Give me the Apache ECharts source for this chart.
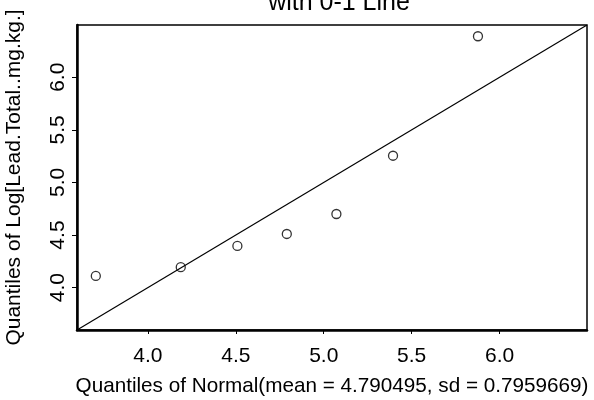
<!DOCTYPE html>
<html>
<head>
<meta charset="utf-8">
<script src="https://cdn.jsdelivr.net/npm/echarts@6/dist/echarts.min.js"></script>
<style>
  html, body { margin: 0; padding: 0; background: #fff; }
  #chart { width: 594px; height: 400px; }
</style>
</head>
<body>
<div id="chart"></div>
<script>
// Normal quantiles (x) against sorted log lead concentrations (y)
const normalQuantiles = [3.704, 4.187, 4.509, 4.790, 5.072, 5.394, 5.877];
const logLead = [4.111, 4.194, 4.396, 4.510, 4.700, 5.254, 6.390];

// Shared axis limits for both axes (so the 0-1 line runs corner to corner)
const axisMin = 3.597;
const axisMax = 6.497;

// Tick labels
const xTicks = [4.0, 4.5, 5.0, 5.5, 6.0];
const yTicks = [4.0, 4.5, 5.0, 5.5, 6.0];

const titleText = 'with 0-1 Line';
const xTitle = 'Quantiles of Normal(mean = 4.790495, sd = 0.7959669)';
const yTitle = 'Quantiles of Log[Lead.Total..mg.kg.]';

const FONT = '"Liberation Sans", Arial, Helvetica, sans-serif';

const points = normalQuantiles.map((x, i) => [x, logLead[i]]);
const identityLine = [[axisMin, axisMin], [axisMax, axisMax]];

const chart = echarts.init(document.getElementById('chart'), null, { renderer: 'canvas' });

chart.setOption({
  animation: false,
  backgroundColor: '#fff',
  textStyle: { fontFamily: FONT, color: '#000' },
  title: {
    text: titleText,
    left: 334,
    top: -14,
    textAlign: 'center',
    textStyle: { fontFamily: FONT, fontSize: 25, fontWeight: 'normal', color: '#000' }
  },
  grid: {
    left: 77, right: 7, top: 25, bottom: 70,
    outerBoundsMode: 'none',
    containLabel: false,
    show: true,
    borderColor: '#000',
    borderWidth: 1.5,
    backgroundColor: 'transparent'
  },
  xAxis: {
    type: 'value',
    min: axisMin,
    max: axisMax,
    name: xTitle,
    nameLocation: 'middle',
    nameGap: 46,
    nameTextStyle: { fontFamily: FONT, fontSize: 20.7, color: '#000' },
    axisLine: { show: true, onZero: false, lineStyle: { color: '#000', width: 2.5 } },
    axisTick: { show: true, length: 4, customValues: xTicks, lineStyle: { color: '#000', width: 1 } },
    axisLabel: {
      customValues: xTicks,
      formatter: v => v.toFixed(1),
      margin: 16,
      fontFamily: FONT, fontSize: 21, color: '#000'
    },
    splitLine: { show: false }
  },
  yAxis: {
    type: 'value',
    min: axisMin,
    max: axisMax,
    name: yTitle,
    nameLocation: 'middle',
    nameRotate: 90,
    nameGap: 52,
    nameTextStyle: { fontFamily: FONT, fontSize: 21, color: '#000' },
    axisLine: { show: true, onZero: false, lineStyle: { color: '#000', width: 2.5 } },
    axisTick: { show: true, length: 5, customValues: yTicks, lineStyle: { color: '#000', width: 1 } },
    axisLabel: {
      customValues: yTicks,
      formatter: v => v.toFixed(1),
      rotate: 90,
      margin: 8,
      fontFamily: FONT, fontSize: 21, color: '#000'
    },
    splitLine: { show: false }
  },
  series: [
    {
      type: 'line',
      data: identityLine,
      symbol: 'none',
      lineStyle: { color: '#000', width: 1.2 },
      silent: true,
      z: 2
    },
    {
      type: 'scatter',
      data: points,
      symbol: 'circle',
      symbolSize: 9,
      itemStyle: { color: 'rgba(255,255,255,0)', borderColor: '#000', borderWidth: 1.3 },
      z: 3
    }
  ]
});
</script>
</body>
</html>
